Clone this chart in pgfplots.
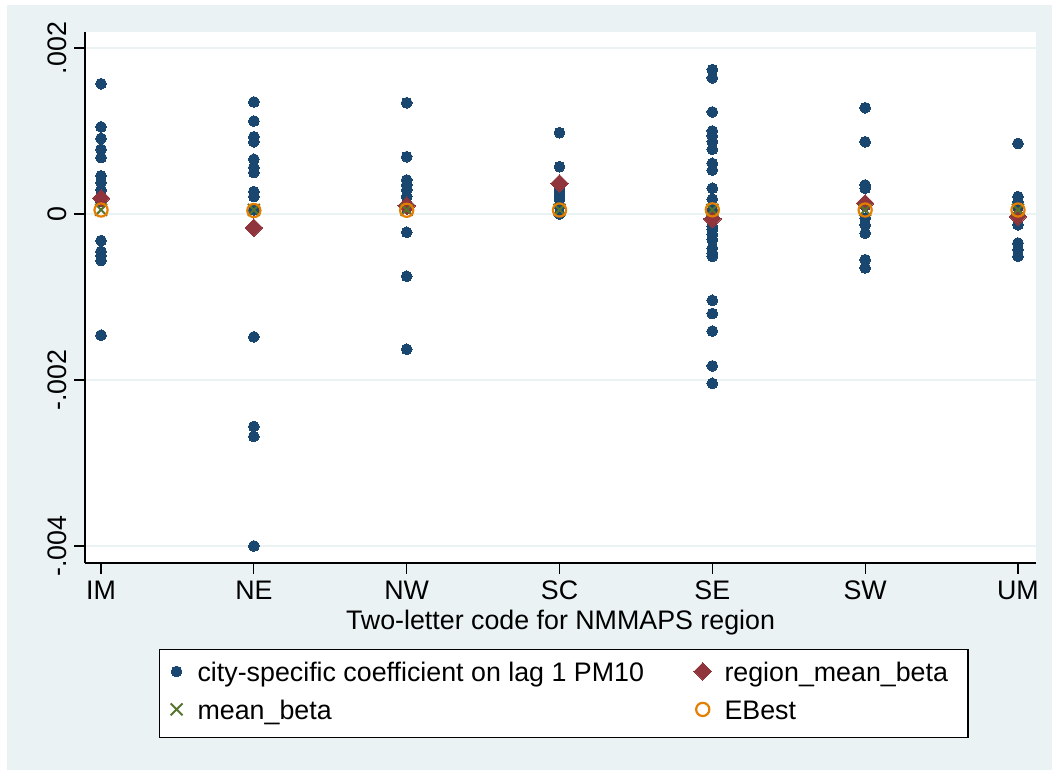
\documentclass[border=0pt]{standalone}
\usepackage{pgfplots}
\pgfplotsset{compat=1.18}
\usepackage{fontspec}
\setmainfont{Liberation Sans}

\definecolor{stnavy}{HTML}{1A476F}
\definecolor{stmaroon}{HTML}{90353B}
\definecolor{stgreen}{HTML}{55752F}
\definecolor{storange}{HTML}{E37E00}
\definecolor{stbg}{HTML}{EAF2F3}

\newcommand\fs{\fontsize{13.4}{16}\selectfont}

\begin{document}
\begin{tikzpicture}[x=1pt,y=1pt]
% page background
\fill[white] (0,0) rectangle (526,385);
\fill[stbg] (3.5,0) rectangle (526,382.5);
\begin{axis}[
  at={(42.5pt,103.5pt)}, anchor=south west,
  scale only axis, width=475.5pt, height=265.5pt,
  axis background/.style={fill=white},
  xmin=-0.105, xmax=6.118,
  ymin=-0.004205, ymax=0.002193,
  axis x line*=bottom, axis y line*=left,
  axis line style={line width=0.6pt, black},
  tick align=outside, major tick length=5.5pt,
  tick style={line width=0.6pt, black},
  xtick={0,1,2,3,4,5,6},
  xticklabels={IM,NE,NW,SC,SE,SW,UM},
  scaled y ticks=false,
  ytick={-0.004,-0.002,0,0.002},
  yticklabels={-.004,-.002,0,.002},
  yticklabel style={rotate=90, anchor=south},
  ymajorgrids, grid style={stbg, line width=0.9pt},
  every tick label/.append style={font=\fs},
  xlabel={Two-letter code for NMMAPS region},
  xlabel style={font=\fs, yshift=2pt},
  legend columns=2,
  legend cell align=left,
  legend image code/.code={\path[draw=none, fill=none] (-4pt,-0.5pt) rectangle (4pt,7.5pt); \draw plot coordinates {(0pt,1.6pt)};},
  legend style={at={(0.0778,-0.162)}, anchor=north west, draw=black, fill=white,
    line width=0.6pt, font=\fs, inner xsep=4.5pt, inner ysep=4pt, row sep=2pt,
    nodes={inner sep=2pt, text height=10pt, text depth=3pt},
    /tikz/every odd column/.append style={column sep=4.5pt},
    /tikz/every even column/.append style={column sep=23pt}},
]
\addplot[only marks, mark=*, mark size=2.7pt, mark options={draw=stnavy, fill=stnavy, line width=0pt}]
table {
x y
0 0.00157
0 0.00105
0 0.00091
0 0.00078
0 0.00068
0 0.00046
0 0.00038
0 0.00029
0 0.00022
0 0.00015
0 -0.00032
0 -0.00045
0 -0.00050
0 -0.00056
0 -0.00146
1 0.00135
1 0.00112
1 0.00093
1 0.00087
1 0.00066
1 0.00056
1 0.00050
1 0.00027
1 0.00021
1 0.00005
1 -0.00148
1 -0.00256
1 -0.00268
1 -0.00400
2 0.00134
2 0.00069
2 0.00041
2 0.00035
2 0.00029
2 0.00021
2 0.00013
2 0.00007
2 -0.00022
2 -0.00075
2 -0.00163
3 0.00098
3 0.00057
3 0.00030
3 0.00024
3 0.00018
3 0.00009
3 0.00000
4 0.00174
4 0.00164
4 0.00123
4 0.00100
4 0.00094
4 0.00087
4 0.00078
4 0.00061
4 0.00053
4 0.00031
4 0.00018
4 0.00005
4 -0.00015
4 -0.00019
4 -0.00025
4 -0.00031
4 -0.00041
4 -0.00047
4 -0.00051
4 -0.00104
4 -0.00120
4 -0.00141
4 -0.00183
4 -0.00204
5 0.00128
5 0.00087
5 0.00035
5 0.00031
5 0.00010
5 -0.00005
5 -0.00013
5 -0.00023
5 -0.00055
5 -0.00065
6 0.00085
6 0.00021
6 0.00015
6 0.00008
6 -0.00013
6 -0.00035
6 -0.00043
6 -0.00051
};
\addlegendentry{city-specific coefficient on lag 1 PM10}

\addplot[only marks, mark=square*, mark size=3.1pt, mark options={rotate=45, draw=stmaroon, fill=stmaroon, line width=0pt}]
table {
x y
0 0.00019
1 -0.000165
2 0.00010
3 0.00037
4 -0.00006
5 0.00013
6 -0.00003
};
\addlegendentry{region\_mean\_beta\hspace*{3.5pt}}

\addplot[only marks, mark=x, mark size=4.2pt, mark options={draw=stgreen, line width=1pt}]
table {
x y
0 0.00005
1 0.00005
2 0.00005
3 0.00005
4 0.00005
5 0.00005
6 0.00005
};
\addlegendentry{mean\_beta}

\addplot[only marks, mark=o, mark size=3.3pt, mark options={draw=storange, line width=1.1pt}]
table {
x y
0 0.000048
1 0.000042
2 0.000045
3 0.000048
4 0.000050
5 0.000048
6 0.000048
};
\addlegendentry{EBest}
\end{axis}
\end{tikzpicture}
\end{document}
